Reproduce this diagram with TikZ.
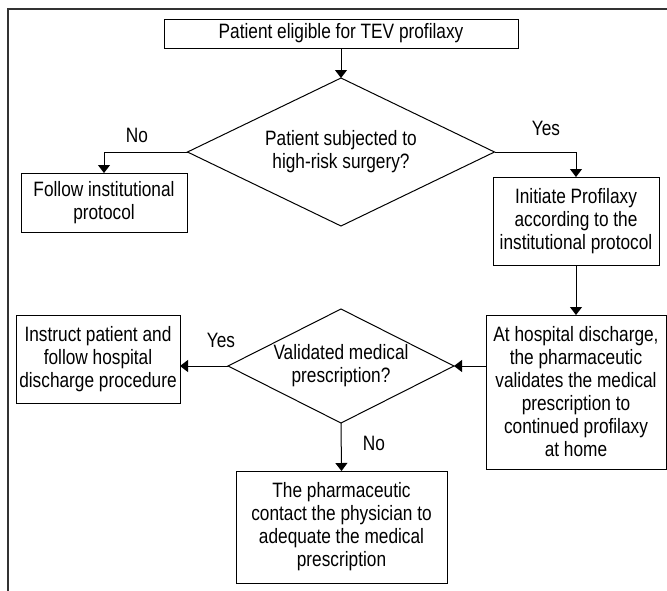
\documentclass[tikz,border=0pt]{standalone}
\usepackage{fontspec}
\setmainfont{Liberation Sans}[FakeStretch=0.83]
\usetikzlibrary{arrows.meta}
\begin{document}
\begin{tikzpicture}[x=1pt,y=-1pt,
  every node/.style={font=\fontsize{20.8}{23}\selectfont, align=center, inner sep=0pt, outer sep=0pt},
  box/.style={draw, line width=1pt},
  shapeline/.style={line width=1pt},
  conn/.style={draw, line width=1pt, -{Triangle[length=8pt,width=12pt]}},
  lbl/.style={}
]
\useasboundingbox (0,0) rectangle (667,590);
\clip (0,0) rectangle (667,590);
\draw[line width=1.6pt, black!80] (8,600) -- (8,9) -- (680,9);

\node[box, minimum width=354pt, minimum height=29pt] (start) at (341,33.5) {Patient eligible for TEV profilaxy};

\node[minimum width=307pt, minimum height=148pt] (d1) at (341,152) {Patient subjected to\\high-risk surgery?};
\draw[shapeline] (d1.north) -- (d1.east) -- (d1.south) -- (d1.west) -- cycle;

\node[box, minimum width=166pt, minimum height=59pt] (follow) at (104,202.5) {Follow institutional\\protocol};
\node[box, minimum width=166pt, minimum height=88pt] (init) at (576,221) {Initiate Profilaxy\\according to the\\institutional protocol};
\node[box, minimum width=180pt, minimum height=154pt] (disch) at (576,392) {At hospital discharge,\\the pharmaceutic\\validates the medical\\prescription to\\continued profilaxy\\at home};

\node[minimum width=226pt, minimum height=114pt] (d2) at (341,366) {Validated medical\\prescription?};
\draw[shapeline] (d2.north) -- (d2.east) -- (d2.south) -- (d2.west) -- cycle;

\node[box, minimum width=164pt, minimum height=88pt] (instr) at (98,359) {Instruct patient and\\follow hospital\\discharge procedure};
\node[box, minimum width=211pt, minimum height=112pt] (contact) at (341.5,527) {The pharmaceutic\\contact the physician to\\adequate the medical\\prescription};

\draw[conn] (start) -- (d1.north);
\draw[conn] (d1.west) -| (follow.north);
\draw[conn] (d1.east) -| (init.north);
\draw[conn] (init) -- (disch);
\draw[conn] (disch.west |- d2.east) -- (d2.east);
\draw[conn] (d2.west) -- (d2.west -| instr.east);
\draw[conn] (d2.south) -- (contact.north);

\node[lbl] (no1) at (137,135) {No};
\node[lbl] (yes1) at (546,128) {Yes};
\node[lbl] (yes2) at (221,340) {Yes};
\node[lbl] (no2) at (374,443) {No};
\end{tikzpicture}
\end{document}
